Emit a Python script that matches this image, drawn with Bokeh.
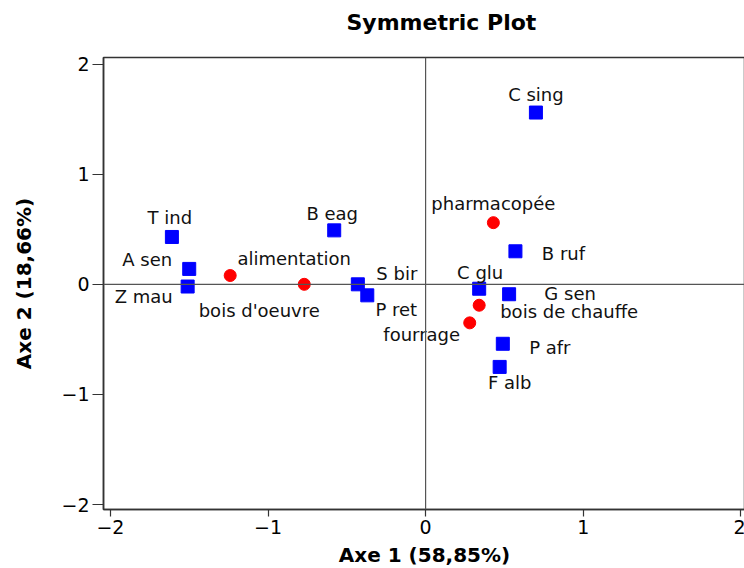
from bokeh.plotting import figure
from bokeh.models import ColumnDataSource, Span, FixedTicker, Range1d, Title
from bokeh.core.properties import value
from bokeh.embed import file_html
from bokeh.resources import INLINE

# Species (column profiles)
species = ["C sing", "T ind", "A sen", "Z mau", "B eag", "S bir", "P ret",
           "B ruf", "C glu", "G sen", "P afr", "F alb"]
species_ax1 = [0.70, -1.61, -1.50, -1.51, -0.58, -0.43, -0.37, 0.57, 0.34, 0.53, 0.49, 0.47]
species_ax2 = [1.56, 0.43, 0.14, -0.02, 0.49, 0.00, -0.10, 0.30, -0.04, -0.09, -0.54, -0.75]

# Uses (row profiles)
uses = ["alimentation", "bois d'oeuvre", "pharmacopée", "bois de chauffe", "fourrage"]
uses_ax1 = [-1.24, -0.77, 0.43, 0.34, 0.28]
uses_ax2 = [0.08, 0.00, 0.56, -0.19, -0.35]

ticks = [-2, -1, 0, 1, 2]
title_text = "Symmetric Plot"

# label placement (screen pixels, layout only)
species_dx = [0, -2, -42, -44, -2, 39, 29, 48, 1, 61, 47, 10]
species_dy = [-18, -19, -9, 10, -17, -11, 14, 2, -16, -1, 4, 16]
uses_dx = [64, -45, 0, 90, -48]
uses_dy = [-17, 26, -19, 6, 12]

FONT = "DejaVu Sans"

p = figure(width=745, height=572, output_backend="svg", toolbar_location=None,
           x_range=Range1d(-2.044, 2.03), y_range=Range1d(-2.045, 2.06),
           min_border_left=103, min_border_right=0, min_border_top=57,
           min_border_bottom=63, title=title_text)

# main title (outermost)
p.title.text_font = FONT
p.title.text_font_size = "22px"
p.title.text_font_style = "bold"
p.title.text_color = "black"
p.title.align = "left"
p.title.offset = 243
p.title.standoff = 0

# thin spacer between the title and the frame
p.add_layout(Title(text=" ", text_font_size="10px", standoff=10), "above")

p.xgrid.visible = False
p.ygrid.visible = False
p.outline_line_color = "#333333"
p.outline_line_width = 1.5
p.background_fill_color = "white"
p.border_fill_color = "white"

for ax in (p.xaxis[0], p.yaxis[0]):
    ax.ticker = FixedTicker(ticks=ticks)
    ax.minor_tick_line_color = None
    ax.major_tick_in = 0
    ax.axis_line_color = "#333333"
    ax.axis_line_width = 1.5
    ax.major_tick_line_color = "#333333"
    ax.major_tick_line_width = 1.2
    ax.major_label_text_font = FONT
    ax.major_label_text_font_size = "19px"
    ax.major_label_text_color = "black"
    ax.axis_label_text_font = FONT
    ax.axis_label_text_font_size = "20px"
    ax.axis_label_text_font_style = "bold"
    ax.axis_label_text_color = "black"

p.xaxis.axis_label = "Axe 1 (58,85%)"
p.yaxis.axis_label = "Axe 2 (18,66%)"
p.xaxis.major_tick_out = 7
p.yaxis.major_tick_out = 11
p.xaxis.major_label_standoff = 3
p.yaxis.major_label_standoff = 3
p.xaxis.axis_label_standoff = 6
p.yaxis.axis_label_standoff = 22

p.add_layout(Span(location=0, dimension="width", line_color="#555555", line_width=1.2))
p.add_layout(Span(location=0, dimension="height", line_color="#555555", line_width=1.2))

src_s = ColumnDataSource(dict(x=species_ax1, y=species_ax2, t=species,
                              dx=species_dx, dy=species_dy))
src_u = ColumnDataSource(dict(x=uses_ax1, y=uses_ax2, t=uses,
                              dx=uses_dx, dy=uses_dy))

p.scatter("x", "y", source=src_s, marker="square", size=13,
          fill_color="#0000FF", line_color="#0000FF")
p.scatter("x", "y", source=src_u, marker="circle", size=12,
          fill_color="#FF0000", line_color="#FF0000")

for src in (src_s, src_u):
    p.text("x", "y", text="t", source=src, x_offset="dx", y_offset="dy",
           text_align="center", text_baseline="middle",
           text_font=value(FONT), text_font_size="18px", text_color="#111111")

open("out.html", "w").write(file_html(p, INLINE))
